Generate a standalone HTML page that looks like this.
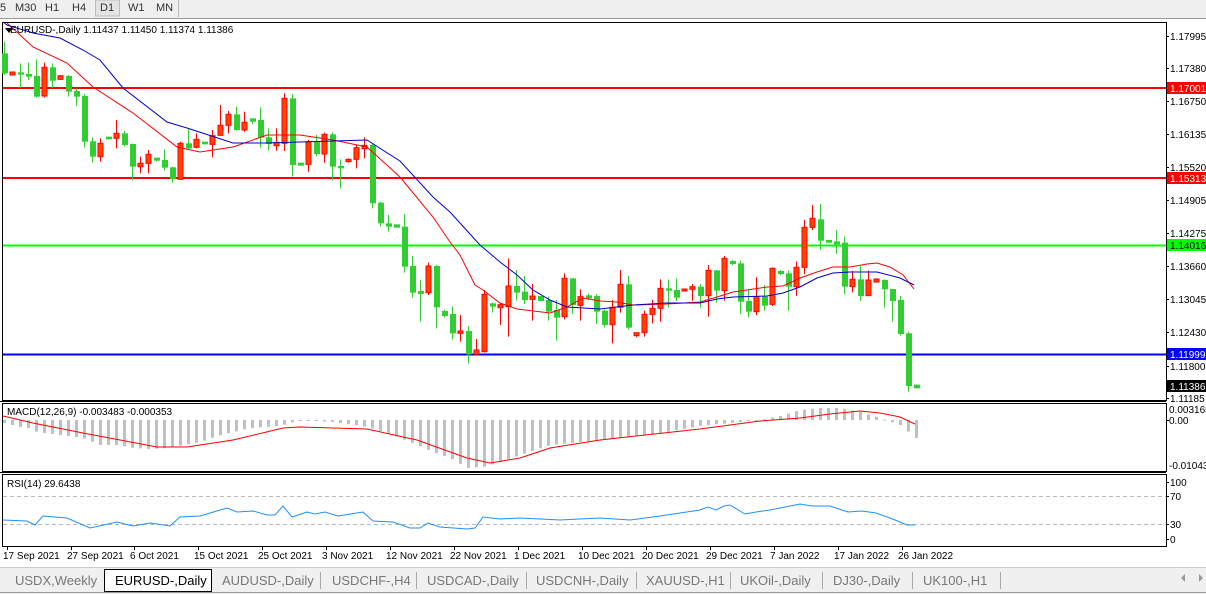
<!DOCTYPE html>
<html><head><meta charset="utf-8"><style>
html,body{margin:0;padding:0;background:#fff;width:1206px;height:594px;overflow:hidden}
svg{display:block;font-family:"Liberation Sans",sans-serif}
</style></head><body>
<svg id="s" width="1206" height="594" xmlns="http://www.w3.org/2000/svg">
<rect x="0" y="0" width="1206" height="18" fill="#efefef"/>
<line x1="0" y1="18.5" x2="1206" y2="18.5" stroke="#999"/>
<g font-size="11" fill="#333">
<text x="0" y="11">5</text><text x="15" y="11">M30</text><text x="45" y="11">H1</text><text x="72" y="11">H4</text>
<rect x="95.5" y="0" width="24" height="16" fill="#e4e4e4" stroke="#bbb"/>
<text x="100" y="11">D1</text><text x="128" y="11">W1</text><text x="156" y="11">MN</text>
<line x1="178.5" y1="0" x2="178.5" y2="17" stroke="#bbb"/>
</g>
<rect x="2.5" y="22.5" width="1164" height="378" fill="none" stroke="#000"/>
<rect x="2.5" y="403.5" width="1164" height="68" fill="none" stroke="#000"/>
<rect x="2.5" y="474.5" width="1164" height="72" fill="none" stroke="#000"/>
<line x1="0" y1="401.5" x2="1166" y2="401.5" stroke="#000"/>
<line x1="0" y1="472.5" x2="1166" y2="472.5" stroke="#000"/>
<g id="g"></g>
<g font-size="10" fill="#000">
<text x="10" y="33">EURUSD-,Daily  1.11437 1.11450 1.11374 1.11386</text>
<text x="7" y="415">MACD(12,26,9) -0.003483 -0.000353</text>
<text x="7" y="487">RSI(14) 29.6438</text>
</g>
<polygon points="5,28 13,28 9,33" fill="#000"/>
<g font-size="10" fill="#000" id="ax">
<text x="1170" y="40">1.17995</text><text x="1170" y="72">1.17380</text><text x="1170" y="105">1.16750</text>
<text x="1170" y="138">1.16135</text><text x="1170" y="171">1.15520</text><text x="1170" y="204">1.14905</text>
<text x="1170" y="237">1.14275</text><text x="1170" y="270">1.13660</text><text x="1170" y="303">1.13045</text>
<text x="1170" y="336">1.12430</text><text x="1170" y="370">1.11800</text><text x="1170" y="402">1.11185</text>
<text x="1169" y="413">0.003165</text><text x="1169" y="424">0.00</text><text x="1169" y="469">-0.01043</text>
<text x="1170" y="486">100</text><text x="1170" y="500">70</text><text x="1170" y="528">30</text><text x="1170" y="543">0</text>
</g>
<g font-size="10">
<rect x="1167" y="82" width="39" height="12" fill="#f00"/><text x="1170" y="92" fill="#fff">1.17001</text>
<rect x="1167" y="172" width="39" height="12" fill="#f00"/><text x="1170" y="182" fill="#fff">1.15313</text>
<rect x="1167" y="239" width="39" height="12" fill="#0f0"/><text x="1170" y="249" fill="#000">1.14016</text>
<rect x="1167" y="348" width="39" height="12" fill="#00f"/><text x="1170" y="358" fill="#fff">1.11999</text>
<rect x="1167" y="380" width="39" height="12" fill="#000"/><text x="1170" y="390" fill="#fff">1.11386</text>
</g>
<g font-size="10" fill="#000" id="dt">
<text x="3" y="559">17 Sep 2021</text><text x="67" y="559">27 Sep 2021</text><text x="130" y="559">6 Oct 2021</text>
<text x="194" y="559">15 Oct 2021</text><text x="258" y="559">25 Oct 2021</text><text x="322" y="559">3 Nov 2021</text>
<text x="386" y="559">12 Nov 2021</text><text x="450" y="559">22 Nov 2021</text><text x="514" y="559">1 Dec 2021</text>
<text x="578" y="559">10 Dec 2021</text><text x="642" y="559">20 Dec 2021</text><text x="706" y="559">29 Dec 2021</text>
<text x="770" y="559">7 Jan 2022</text><text x="834" y="559">17 Jan 2022</text><text x="898" y="559">26 Jan 2022</text>
</g>
<rect x="0" y="567" width="1206" height="27" fill="#f0f0f0"/>
<line x1="0" y1="567.5" x2="1206" y2="567.5" stroke="#ccc"/>
<line x1="0" y1="592.5" x2="1206" y2="592.5" stroke="#999"/>
<rect x="104.5" y="569.5" width="107" height="22" fill="#fff" stroke="#000"/>
<g font-size="13" fill="#777">
<text x="15" y="585">USDX,Weekly</text>
<text x="115" y="585" fill="#000">EURUSD-,Daily</text>
<text x="222" y="585">AUDUSD-,Daily</text>
<text x="332" y="585">USDCHF-,H4</text>
<text x="427" y="585">USDCAD-,Daily</text>
<text x="536" y="585">USDCNH-,Daily</text>
<text x="646" y="585">XAUUSD-,H1</text>
<text x="740" y="585">UKOil-,Daily</text>
<text x="833" y="585">DJ30-,Daily</text>
<text x="923" y="585">UK100-,H1</text>
</g>
<g stroke="#aaa"><line x1="320.5" y1="572" x2="320.5" y2="589"/><line x1="416.5" y1="572" x2="416.5" y2="589"/><line x1="526.5" y1="572" x2="526.5" y2="589"/><line x1="636.5" y1="572" x2="636.5" y2="589"/><line x1="730.5" y1="572" x2="730.5" y2="589"/><line x1="822.5" y1="572" x2="822.5" y2="589"/><line x1="912.5" y1="572" x2="912.5" y2="589"/><line x1="1000.5" y1="572" x2="1000.5" y2="589"/></g>
<polygon points="1185,574 1185,582 1181,578" fill="#999"/><polygon points="1199,574 1199,582 1203,578" fill="#999"/>
</svg>
<script>
var g=document.getElementById('g'),h='';
function L(x1,y1,x2,y2,c,w,d){h+='<line x1="'+x1+'" y1="'+y1+'" x2="'+x2+'" y2="'+y2+'" stroke="'+c+'" stroke-width="'+(w||1)+'"'+(d?' stroke-dasharray="'+d+'"':'')+'/>';}
// horizontal levels
L(3,88,1166,88,'#f00',2);L(3,178,1166,178,'#f00',2);L(3,245.5,1166,245.5,'#0f0',2);L(3,354.5,1166,354.5,'#00f',2);
L(3,496.5,1166,496.5,'#bbb',1,'4,3');L(3,524.5,1166,524.5,'#bbb',1,'4,3');
// ticks on axes
[36,68,101,134,167,200,233,266,299,332,366,398,420,482,496,524,539].forEach(function(y){L(1166,y+.5,1169,y+.5,'#000');});
[3,67,130,194,258,322,386,450,514,578,642,706,770,834,898].forEach(function(x){L(x+4.5,546,x+4.5,550,'#000');});
var C=[['G',100,160,65,165],['R',159,162,159,162],['G',160,161,130,205],['G',162,170,128,180],['G',168,230,118,233],['R',142,228,128,232],['G',142,182,130,205],['R',170,175,170,180],['G',168,215,165,230],['G',213,230,205,258],['G',228,365,222,382],['G',364,410,352,428],['R',370,410,355,425],['G',353,355,350,357],['R',340,355,300,385],['G',340,375,333,380],['G',372,440,370,482],['R',430,440,410,460],['R',403,430,390,460],['G',413,422,413,425],['G',420,443,388,452],['G',442,478,440,488],['R',370,478,365,480],['G',370,385,326,390],['R',358,382,340,385],['G',365,373,365,373],['R',347,373,330,412],['R',316,346,255,347],['R',283,316,273,340],['G',283,330,260,332],['R',307,330,275,335],['G',295,305,295,312],['G',300,353,262,382],['G',352,372,325,392],['R',370,374,325,392],['R',235,370,220,393],['G',235,435,222,470],['G',428,437,428,437],['R',365,433,360,455],['G',365,402,345,408],['R',343,402,338,428],['G',343,440,338,482],['G',438,445,418,505],['R',418,425,415,428],['R',383,418,375,445],['R',376,386,352,415],['G',375,550,370,565],['G',548,610,545,620],['G',610,620,585,635],['G',616,620,616,620],['G',620,740,582,758],['G',738,818,708,833],['G',816,819,780,905],['R',738,818,728,825],['G',738,862,735,925],['G',873,888,868,892],['G',882,940,860,958],['R',933,940,885,965]];
var D=[['G',423,493,408,520],['R',480,493,447,492],['R',313,485,300,488],['G',340,350,338,368],['R',347,350,340,405],['R',288,350,205,440],['G',288,308,240,332],['G',305,330,258,342],['R',318,328,282,392],['G',318,333,318,333],['G',330,365,320,392],['G',360,383,330,452],['R',265,380,250,388],['G',265,345,265,372],['R',320,346,298,392],['G',319,322,310,330],['G',318,365,312,402],['G',362,405,358,412],['R',352,404,330,460],['R',283,352,240,368],['G',283,413,258,418],['R',428,437,428,442],['R',373,428,362,440],['R',355,373,330,400],['R',295,355,268,395],['G',295,302,268,352],['G',300,323,265,333],['R',297,303,297,303],['R',290,298,282,332],['G',290,318,282,352],['R',241,317,225,380],['G',241,302,240,338],['R',205,302,198,332],['G',216,219,210,225],['G',220,335,212,372],['G',333,365,300,382],['R',320,365,262,375],['G',320,347,285,362],['R',235,343,232,348],['G',246,249,240,255],['G',250,290,242,362],['R',232,290,215,318],['R',112,232,90,252],['R',85,112,45,120],['G',88,152,42,180],['G',150,158,150,158],['G',157,160,120,192],['G',158,290,140,313],['R',268,290,243,307],['G',268,318,228,333],['R',270,317,242,318],['R',270,273,265,278],['G',270,298,268,352],['G',297,333,297,395],['G',330,432,318,437],['G',430,588,425,605],['G',587,592,583,595]];
D.forEach(function(d){C.push([d[0],d[1]+510,d[2]+510,d[3]+510,d[4]+510]);});
C.forEach(function(c,i){var x=4+8*i,f=function(v){return 20+v/3;};var col=c[0]=='G'?'#32cd32':'#ff0000';
L(x+.5,f(c[3]),x+.5,f(c[4]),col);var t=f(c[1]),b=f(c[2]);if(b-t<2){t-=1;b+=1;}
if(c[0]=='G')h+='<rect x="'+(x-2)+'" y="'+t+'" width="6" height="'+(b-t)+'" fill="#32cd32"/>';
else h+='<rect x="'+(x-2)+'" y="'+t+'" width="5" height="'+(b-t)+'" fill="#ff4500" stroke="#f00"/>';});
function P(pts,c,w){h+='<polyline fill="none" stroke="'+c+'" stroke-width="'+(w||1)+'" points="'+pts+'"/>';}
P('7,23 33,47 67,63 93,87 133,113 177,147 200,152 233,147 267,135 300,135 333,140 367,147 400,177 433,217 450,242 460,255 475,285 483,290 500,303 517,309 550,313 567,307 583,298 600,301 617,302 633,305 667,304 700,302 717,297 733,292 767,287 783,286 800,278 817,272 833,267 850,267 867,264 877,263 890,267 903,275 914,289','#f00');
P('3,22 7,25 33,33 60,38 83,50 100,60 123,88 167,122 187,128 233,143 267,143 300,142 367,140 400,161 433,197 450,212 480,245 500,262 517,275 533,290 550,300 567,307 600,309 633,305 667,303 700,303 717,299 733,297 767,296 783,293 800,287 817,278 833,273 850,272 877,272 900,278 914,285','#00c');
// MACD histogram
var hp=[[3,423],[12,425],[20,427],[28,428],[37,432],[83,438],[100,445],[117,445],[133,448],[150,449],[167,448],[183,445],[200,442],[217,436],[233,432],[250,428],[267,427],[283,425],[300,420],[333,422],[367,427],[383,432],[400,438],[417,445],[433,452],[450,458],[467,468],[483,467],[500,462],[520,455],[550,445],[600,440],[650,435],[700,426],[740,422],[760,420],[780,416],[800,410],[820,408],[840,408],[860,412],[880,418],[900,425],[916,438]];
function interp(a,x){for(var i=0;i<a.length-1;i++)if(x>=a[i][0]&&x<=a[i+1][0]){var t=(x-a[i][0])/(a[i+1][0]-a[i][0]);return a[i][1]+t*(a[i+1][1]-a[i][1]);}return a[a.length-1][1];}
for(var i=0;i<115;i++){var x=4+8*i,y=interp(hp,x);var t=Math.min(y,420),b=Math.max(y,420);h+='<rect x="'+(x-1)+'" y="'+t+'" width="3" height="'+Math.max(b-t,1)+'" fill="#c0c0c0"/>';}
P('3,416 33,423 83,433 157,447 187,447 233,440 283,428 300,427 367,429 417,440 467,458 490,463 520,458 550,448 600,440 700,429 760,421 800,418 830,414 860,411 880,413 900,417 915,424','#f00');
P('3,520 27,521 35,525 43,516 67,518 90,528 117,522 133,526 150,523 170,526 180,517 200,516 227,508 237,512 253,511 267,515 275,515 283,506 292,517 307,512 315,514 325,512 338,516 363,512 373,521 393,522 410,528 420,528 428,523 440,527 467,529 475,528 483,517 500,519 520,518 560,520 600,518 630,520 660,516 700,510 708,507 716,510 724,506 730,505 740,511 745,514 756,512 770,510 790,506 800,504 812,506 830,506 842,510 848,512 862,511 876,513 890,518 900,522 907,525 915,525','#1e90ff');
g.innerHTML=h;
</script>
</body></html>
